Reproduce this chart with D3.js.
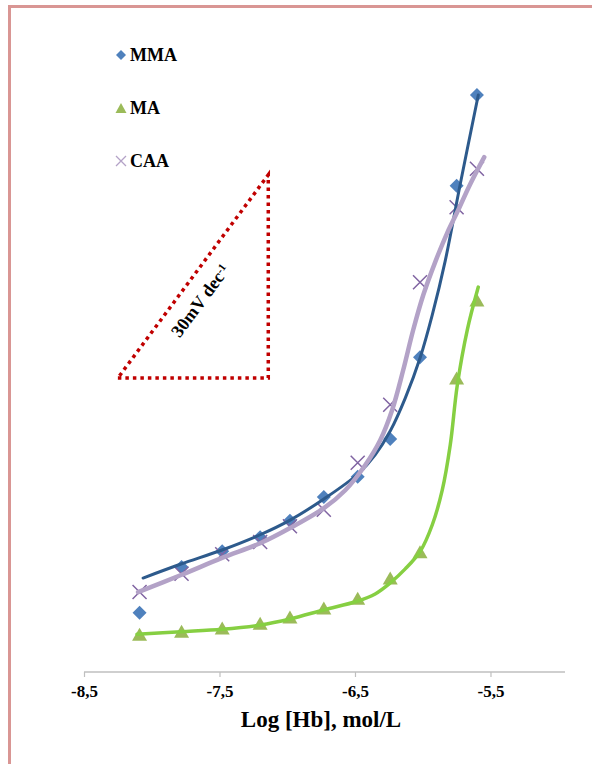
<!DOCTYPE html>
<html>
<head>
<meta charset="utf-8">
<script src="https://cdn.jsdelivr.net/npm/d3@7"></script>
<style>
  html, body { margin: 0; padding: 0; background: #ffffff; }
  svg { display: block; }
  text { font-family: "Liberation Serif", "Times New Roman", serif; font-weight: bold; fill: #000; }
</style>
</head>
<body>
<svg id="chart" width="592" height="764"></svg>
<script>
// log concentration of haemoglobin for each calibration standard
const logHb = [-8.09, -7.78, -7.48, -7.20, -6.98, -6.73, -6.48, -6.24, -6.02, -5.75, -5.60];

// electrode potentials (mV) for the three sensors
const mmaE = [9.7, 17.2, 19.8, 22.1, 24.8, 28.7, 32.0, 38.2, 51.6, 79.7, 94.6];
const maE  = [6.2, 6.7, 7.2, 8.0, 9.0, 10.5, 12.1, 15.4, 19.7, 48.2, 61.0];
const caaE = [13.1, 16.1, 19.3, 21.3, 23.9, 26.6, 34.3, 43.8, 63.9, 76.2, 82.5];

// smoothed response curves, [log C, E]
const mmaFit = [[-8.064, 15.4], [-7.784, 17.7], [-7.481, 20.0], [-7.200, 22.5], [-6.979, 24.9],
  [-6.727, 28.4], [-6.476, 32.5], [-6.351, 35.6], [-6.240, 39.5], [-6.129, 44.9], [-6.018, 51.6],
  [-5.930, 58.5], [-5.834, 67.4], [-5.723, 80.0], [-5.590, 94.6]];
const maFit = [[-8.109, 6.2], [-7.784, 6.6], [-7.481, 7.0], [-7.200, 7.7], [-6.979, 8.7],
  [-6.727, 10.2], [-6.484, 11.6], [-6.351, 12.8], [-6.240, 14.6], [-6.129, 16.9], [-6.018, 19.8],
  [-5.930, 24.1], [-5.856, 29.8], [-5.797, 37.2], [-5.745, 47.0], [-5.671, 56.1], [-5.590, 63.1]];
const caaFit = [[-8.101, 13.1], [-7.784, 15.9], [-7.481, 18.7], [-7.200, 21.1], [-6.979, 23.6],
  [-6.727, 26.9], [-6.572, 29.8], [-6.425, 33.9], [-6.314, 38.0], [-6.225, 43.0], [-6.144, 49.5],
  [-6.070, 56.1], [-5.996, 61.8], [-5.908, 67.2], [-5.819, 72.0], [-5.745, 75.4], [-5.649, 80.0],
  [-5.546, 84.4]];

const xTicks = [-8.5, -7.5, -6.5, -5.5];
const xTickLabels = ["-8,5", "-7,5", "-6,5", "-5,5"];
const legendNames = ["MMA", "MA", "CAA"];

// Nernstian slope guide: 30 mV per decade
const slopeValue = 30;
const slopeStart = [-8.25, 48.2];
const slopeEndX = -7.14;

const svg = d3.select("#chart");

// page frame
svg.append("rect").attr("x", 8).attr("y", 5).attr("width", 584).attr("height", 3).attr("fill", "#d99694");
svg.append("rect").attr("x", 8).attr("y", 5).attr("width", 3).attr("height", 759).attr("fill", "#d99694");

const x = d3.scaleLinear().domain([-8.5, -4.95]).range([84, 565]);
const y = d3.scaleLinear().domain([0, 110]).range([672, 1]);

// x axis
const axis = d3.axisBottom(x).tickValues(xTicks).tickSize(5)
  .tickFormat((d, i) => xTickLabels[i]).tickPadding(8);
const gx = svg.append("g").attr("transform", `translate(0,${y(0)})`).call(axis);
gx.select(".domain").attr("stroke", "#bfbfbf").attr("stroke-width", 1.5)
  .attr("d", `M${x.range()[0]},0H${x.range()[1]}`);
gx.selectAll(".tick line").attr("stroke", "#bfbfbf").attr("stroke-width", 1.2);
gx.selectAll(".tick text").style("font-family", '"Liberation Serif", serif')
  .style("font-weight", "bold").style("font-size", "17px").attr("fill", "#000");

svg.append("text").attr("x", 321).attr("y", 727).attr("text-anchor", "middle")
  .style("font-size", "23px").text("Log [Hb], mol/L");

// marker shapes
const diamond = s => `M0,${-s}L${s},0L0,${s}L${-s},0Z`;
const triangle = (w, h) => `M0,${-h / 2}L${w / 2},${h / 2}L${-w / 2},${h / 2}Z`;
const cross = s => `M${-s},${-s}L${s},${s}M${-s},${s}L${s},${-s}`;

const colors = { mma: "#4f81bd", ma: "#9bbb59", caa: "#8064a2" };
const lineColors = { mma: "#2d5a8c", ma: "#86cf42", caa: "#b3a2c7" };

const marks = svg.append("g");
marks.selectAll("path.mma").data(logHb).join("path").attr("class", "mma")
  .attr("transform", (d, i) => `translate(${x(d)},${y(mmaE[i])})`)
  .attr("d", diamond(7)).attr("fill", colors.mma);
marks.selectAll("path.ma").data(logHb).join("path").attr("class", "ma")
  .attr("transform", (d, i) => `translate(${x(d)},${y(maE[i])})`)
  .attr("d", triangle(15, 13)).attr("fill", colors.ma);
marks.selectAll("path.caa").data(logHb).join("path").attr("class", "caa")
  .attr("transform", (d, i) => `translate(${x(d)},${y(caaE[i])})`)
  .attr("d", cross(7)).attr("fill", "none").attr("stroke", colors.caa).attr("stroke-width", 1.5);

// response curves
const line = d3.line().x(d => x(d[0])).y(d => y(d[1])).curve(d3.curveCatmullRom.alpha(0.5));
svg.append("path").datum(mmaFit).attr("d", line).attr("fill", "none")
  .attr("stroke", lineColors.mma).attr("stroke-width", 3).attr("stroke-linecap", "round");
svg.append("path").datum(maFit).attr("d", line).attr("fill", "none")
  .attr("stroke", lineColors.ma).attr("stroke-width", 3.5).attr("stroke-linecap", "round");
svg.append("path").datum(caaFit).attr("d", line).attr("fill", "none")
  .attr("stroke", lineColors.caa).attr("stroke-width", 4.5).attr("stroke-linecap", "round");

// slope triangle
const slopeEnd = [slopeEndX, slopeStart[1] + slopeValue * (slopeEndX - slopeStart[0])];
const p0 = [x(slopeStart[0]), y(slopeStart[1])];
const p1 = [x(slopeEnd[0]), y(slopeStart[1])];
const p2 = [x(slopeEnd[0]), y(slopeEnd[1])];
svg.append("path")
  .attr("d", `M${p0[0]},${p0[1]}L${p1[0]},${p1[1]}L${p2[0]},${p2[1]}Z`)
  .attr("fill", "none").attr("stroke", "#c00000").attr("stroke-width", 3.5)
  .attr("stroke-dasharray", "3.5,4");

// slope label, set along the hypotenuse inside the triangle
const ang = Math.atan2(p2[1] - p0[1], p2[0] - p0[0]) * 180 / Math.PI;
const t = 0.44;
const along = [p0[0] + (p2[0] - p0[0]) * t, p0[1] + (p2[1] - p0[1]) * t];
const rad = ang * Math.PI / 180;
const off = 20;
const tx = along[0] - Math.sin(rad) * off, ty = along[1] + Math.cos(rad) * off;
const slopeText = svg.append("text")
  .attr("transform", `translate(${tx},${ty}) rotate(${ang})`)
  .attr("text-anchor", "middle").attr("dy", "0.35em").style("font-size", "18px");
slopeText.append("tspan").text(`${slopeValue}mV dec`);
slopeText.append("tspan").attr("dy", "-0.45em").style("font-size", "11px").text("-1");

// legend
const legend = svg.append("g");
const legendY = [55, 108, 161];
legend.append("path").attr("transform", `translate(121,${legendY[0]})`).attr("d", diamond(5)).attr("fill", colors.mma);
legend.append("path").attr("transform", `translate(121,${legendY[1]})`).attr("d", triangle(11, 10)).attr("fill", colors.ma);
legend.append("path").attr("transform", `translate(121,${legendY[2]})`).attr("d", cross(5))
  .attr("fill", "none").attr("stroke", "#b3a2c7").attr("stroke-width", 1.3);
legendNames.forEach((n, i) => {
  legend.append("text").attr("x", 130).attr("y", legendY[i] + 5.5).style("font-size", "18px").text(n);
});
</script>
</body>
</html>
